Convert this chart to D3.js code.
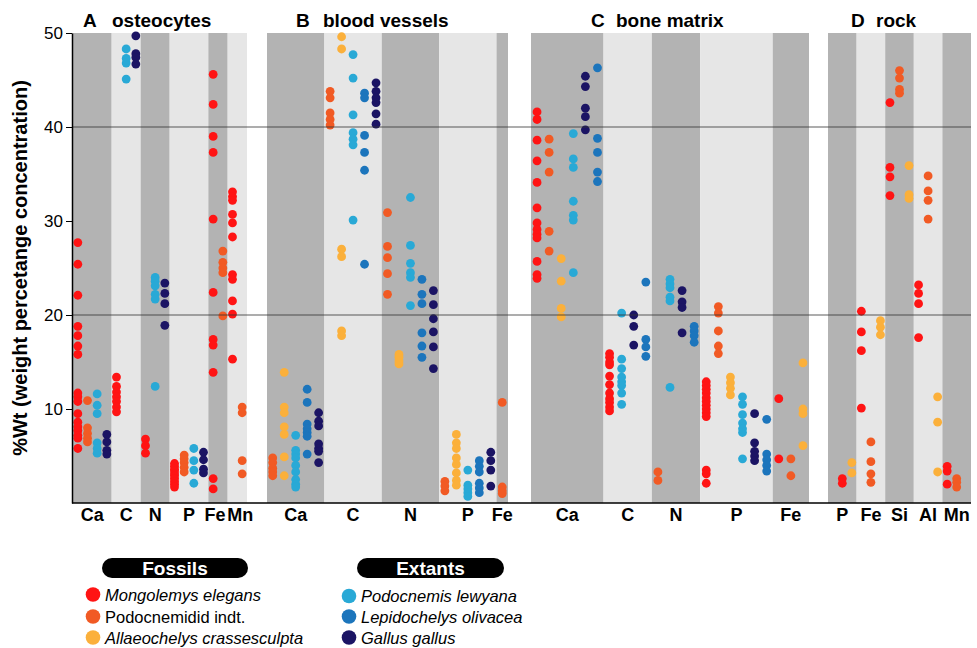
<!DOCTYPE html>
<html>
<head>
<meta charset="utf-8">
<script src="https://cdn.jsdelivr.net/npm/d3@7"></script>
<style>
  body { margin: 0; background: #fff; }
  svg text { font-family: "Liberation Sans", Arial, sans-serif; }
</style>
</head>
<body>
<svg id="chart" width="977" height="648"></svg>
<script>
// species, legend order
const species = ["Mongolemys elegans", "Podocnemidid indt.", "Allaeochelys crassesculpta",
                 "Podocnemis lewyana", "Lepidochelys olivacea", "Gallus gallus"];
const speciesColor = ["#ff1414", "#f15a24", "#fbb03b", "#29a9d6", "#1c75bc", "#1b1464"];
const fossils = [0, 1, 2];
const extants = [3, 4, 5];
const yTicks = [10, 20, 30, 40, 50];
const refLines = [20, 40];

const panelLetters = ["A", "B", "C", "D"];
const panelNames = ["osteocytes", "blood vessels", "bone matrix", "rock"];

// [element, [[species index, %Wt values], ...]]  (null = empty slot)
const osteocytes = [
  ["Ca", [[0, [27.7, 25.4, 22.1, 18.8, 17.8, 16.7, 15.8, 11.7, 11.3, 10.8, 9.5, 8.6, 8.1, 7.7, 7.2, 6.9, 5.8]],
          [1, [10.9, 8.0, 7.4, 6.9, 6.5]],
          [3, [11.6, 10.4, 9.5, 6.4, 5.8, 5.3]],
          [5, [7.3, 6.5, 5.6, 5.2]]]],
  ["C",  [[0, [13.4, 12.4, 11.8, 11.3, 10.8, 10.2, 9.7]],
          [3, [48.3, 47.3, 46.8, 45.1]],
          [5, [49.7, 47.8, 47.4, 46.7]]]],
  ["N",  [[0, [6.8, 6.1, 5.3]],
          [3, [24.0, 23.6, 23.1, 22.2, 21.7, 12.4]],
          [5, [23.4, 22.3, 21.2, 18.9]]]],
  ["P",  [[0, [4.2, 3.9, 3.6, 3.4, 3.1, 2.9, 2.6, 2.3, 2.0, 1.7]],
          [1, [5.1, 4.7, 4.3, 3.8, 3.3]],
          [3, [5.8, 4.5, 3.5, 2.1]],
          [5, [5.4, 4.6, 3.6, 3.2]]]],
  ["Fe", [[0, [45.6, 42.4, 39.0, 37.3, 30.2, 22.4, 17.4, 16.8, 13.9, 2.6, 1.5]],
          [1, [26.8, 25.6, 25.0, 24.5, 19.9]]]],
  ["Mn", [[0, [33.1, 32.6, 32.2, 30.7, 29.8, 28.3, 24.3, 23.8, 21.5, 20.1, 15.3]],
          [1, [10.2, 9.6, 4.5, 3.1]]]]
];

const bloodVessels = [
  ["Ca", [[1, [4.8, 4.3, 3.7, 3.3, 2.9]],
          [2, [13.9, 10.2, 9.6, 8.1, 7.3, 4.9, 2.9]],
          [3, [7.2, 5.6, 5.2, 4.8, 4.0, 3.3, 2.5, 2.0, 1.7]],
          [4, [12.1, 10.7, 8.4, 7.9, 7.5, 7.1, 5.2]],
          [5, [9.6, 8.7, 8.2, 6.3, 5.8, 5.5, 4.3]]]],
  ["C",  [[1, [43.8, 43.1, 41.5, 40.8, 40.2]],
          [2, [49.6, 48.3, 27.0, 26.2, 18.3, 17.8]],
          [3, [47.7, 45.2, 41.3, 39.4, 38.7, 38.1, 30.1]],
          [4, [43.6, 43.1, 39.1, 37.3, 35.4, 25.4]],
          [5, [44.7, 43.8, 43.1, 42.6, 41.4, 40.3]]]],
  ["N",  [[1, [30.9, 27.3, 26.1, 24.4, 22.2]],
          [2, [15.8, 15.5, 15.1, 14.8]],
          [3, [32.5, 27.4, 25.5, 24.5, 24.0, 21.0]],
          [4, [23.8, 22.2, 21.2, 18.1, 16.7, 15.5]],
          [5, [22.6, 21.1, 19.6, 18.2, 16.6, 14.3]]]],
  ["P",  [[1, [2.3, 1.8, 1.3]],
          [2, [7.3, 6.4, 5.8, 4.8, 4.1, 3.2, 2.4, 1.9]],
          [3, [3.5, 1.9, 1.5, 1.1, 0.7]],
          [4, [4.5, 3.9, 3.3, 2.1, 1.6, 1.1]],
          [5, [5.4, 4.5, 3.5, 1.8]]]],
  ["Fe", [[1, [10.7, 1.7, 1.3, 1.0]]]]
];

const boneMatrix = [
  ["Ca", [[0, [41.6, 40.8, 38.6, 36.4, 34.1, 31.4, 29.8, 29.1, 28.6, 28.2, 25.7, 24.3, 23.9]],
          [1, [38.7, 37.3, 35.2, 28.9, 26.8]],
          [2, [26.0, 23.6, 20.7, 19.8]],
          [3, [39.3, 36.6, 35.7, 32.1, 30.6, 30.1, 24.5]],
          [5, [45.4, 44.3, 42.0, 41.1, 39.7]],
          [4, [46.3, 38.8, 37.3, 35.2, 34.2]]]],
  ["C",  [[0, [15.9, 15.5, 15.0, 14.7, 13.5, 12.6, 11.7, 11.1, 10.7, 10.2, 9.8]],
          [3, [20.2, 15.3, 14.3, 13.4, 12.9, 12.5, 11.7, 10.5]],
          [5, [20.0, 18.8, 16.8]],
          [4, [23.5, 17.4, 16.6, 15.6]]]],
  ["N",  [[1, [3.3, 2.4]],
          [3, [23.8, 23.3, 22.9, 21.9, 21.5, 12.3]],
          [5, [22.6, 21.4, 20.8, 18.1]],
          [4, [18.8, 18.3, 17.8, 17.1]]]],
  ["P",  [[0, [12.9, 12.5, 12.1, 11.7, 11.2, 10.8, 10.4, 10.0, 9.6, 9.2, 3.5, 3.1, 2.1]],
          [1, [20.9, 20.2, 18.3, 16.7, 15.9]],
          [2, [13.4, 12.8, 12.2, 11.5]],
          [3, [11.3, 10.5, 9.4, 8.5, 7.9, 7.5, 4.7]],
          [5, [9.5, 6.4, 5.5, 5.0, 4.5]],
          [4, [8.9, 5.2, 4.6, 4.0, 3.4]]]],
  ["Fe", [[0, [11.1, 4.7]],
          [1, [4.7, 2.9]],
          [2, [14.9, 10.0, 9.5, 6.1]]]]
];

const rock = [
  ["P",  [[null, []],
          [0, [2.6, 2.1]],
          [2, [4.3, 3.2]]]],
  ["Fe", [[0, [20.4, 18.2, 16.2, 10.1]],
          [1, [6.5, 4.4, 3.1, 2.2]],
          [2, [19.4, 18.7, 17.9]]]],
  ["Si", [[0, [42.6, 35.7, 34.7, 32.7]],
          [1, [46.0, 45.2, 44.0, 43.6]],
          [2, [35.9, 32.8, 32.4]]]],
  ["Al", [[0, [23.2, 22.3, 21.2, 17.6]],
          [1, [34.8, 33.2, 32.2, 30.2]],
          [2, [11.3, 8.6, 3.3]]]],
  ["Mn", [[0, [3.9, 3.4, 2.0]],
          [1, [2.6, 2.2, 1.7]],
          [null, []]]]
];

const panelData = [osteocytes, bloodVessels, boneMatrix, rock];

// ---- layout ----
const svg = d3.select("#chart");
const axisX = 72, plotRight = 971;
const panelRange = [[73, 247], [267, 508], [531, 809], [828, 971]];
const titlePos = [[83, 112], [296, 323], [591, 616], [851, 876]];
// small nudges so the tight Fe / Mn labels in panel A don't collide
const labelNudge = { "0-4": -3, "0-5": 3 };
const dark = "#b3b3b3", light = "#e6e6e6";
const r = 4.4;

const y = d3.scaleLinear().domain([0, 50]).range([503, 33]);

const bands = svg.append("g");
const dots = svg.append("g");
const labels = svg.append("g");

panelData.forEach((data, pi) => {
  const nSlots = d3.sum(data, d => d[1].length);
  const slot = d3.scaleLinear().domain([0, nSlots]).range(panelRange[pi]);
  let s = 0;
  data.forEach((el, ei) => {
    const s0 = s;
    s += el[1].length;
    let x0 = slot(s0);
    if (pi === 0 && ei === 0) x0 = axisX;
    bands.append("rect")
      .attr("x", x0)
      .attr("y", y(50))
      .attr("width", slot(s) - x0)
      .attr("height", y(0) - y(50))
      .attr("fill", ei % 2 ? light : dark);

    labels.append("text")
      .attr("x", slot((s0 + s) / 2) + (labelNudge[pi + "-" + ei] || 0))
      .attr("y", 521)
      .attr("text-anchor", "middle")
      .attr("font-size", 18)
      .attr("font-weight", "bold")
      .text(el[0]);

    el[1].forEach((ser, k) => {
      if (ser[0] === null) return;
      const cx = slot(s0 + k + 0.5);
      dots.selectAll(null)
        .data(ser[1])
        .enter()
        .append("circle")
        .attr("cx", cx)
        .attr("cy", d => y(d))
        .attr("r", r)
        .attr("fill", speciesColor[ser[0]]);
    });
  });

  // panel title
  labels.append("text")
    .attr("x", titlePos[pi][0]).attr("y", 27)
    .attr("font-size", 19).attr("font-weight", "bold")
    .text(panelLetters[pi]);
  labels.append("text")
    .attr("x", titlePos[pi][1]).attr("y", 27)
    .attr("font-size", 19).attr("font-weight", "bold")
    .text(panelNames[pi]);
});

// reference lines at 20 and 40
svg.selectAll(".ref")
  .data(refLines)
  .enter()
  .append("line")
  .attr("x1", axisX).attr("x2", plotRight)
  .attr("y1", d => y(d)).attr("y2", d => y(d))
  .attr("stroke", "#333")
  .attr("stroke-opacity", 0.8)
  .attr("stroke-width", 1.2);

// x baseline
svg.append("line")
  .attr("x1", axisX).attr("x2", plotRight)
  .attr("y1", y(0)).attr("y2", y(0))
  .attr("stroke", "#000").attr("stroke-width", 1.5);

// y axis
const yAxis = svg.append("g")
  .attr("transform", `translate(${axisX},0)`)
  .call(d3.axisLeft(y).tickValues(yTicks).tickSize(6).tickSizeOuter(0).tickPadding(3));
yAxis.select(".domain").attr("stroke", "#000").attr("stroke-width", 1.5);
yAxis.selectAll("text")
  .attr("font-size", 17)
  .attr("fill", "#000")
  .style("font-family", "'Liberation Sans', Arial, sans-serif");

svg.append("text")
  .attr("transform", "translate(27,268) rotate(-90)")
  .attr("text-anchor", "middle")
  .attr("font-size", 20)
  .attr("font-weight", "bold")
  .text("%Wt (weight percetange concentration)");

// ---- legend ----
const legendGroups = [
  { title: "Fossils", items: fossils, pill: [102, 248], dotX: 93, textX: 105, dy: 0 },
  { title: "Extants", items: extants, pill: [357, 504], dotX: 349, textX: 361, dy: 1.5 }
];
const rowY = [594.5, 616.5, 637.5];

legendGroups.forEach(gr => {
  svg.append("rect")
    .attr("x", gr.pill[0]).attr("y", 558)
    .attr("width", gr.pill[1] - gr.pill[0]).attr("height", 20)
    .attr("rx", 10)
    .attr("fill", "#000");
  svg.append("text")
    .attr("x", (gr.pill[0] + gr.pill[1]) / 2).attr("y", 575)
    .attr("text-anchor", "middle")
    .attr("font-size", 19).attr("font-weight", "bold")
    .attr("fill", "#fff")
    .text(gr.title);
  gr.items.forEach((si, i) => {
    const cy = rowY[i] + (i === 0 ? gr.dy : 0);
    svg.append("circle")
      .attr("cx", gr.dotX).attr("cy", cy)
      .attr("r", 7.3)
      .attr("fill", speciesColor[si]);
    svg.append("text")
      .attr("x", gr.textX).attr("y", cy + 6)
      .attr("font-size", 16.5)
      .attr("font-style", species[si].indexOf("indt.") >= 0 ? "normal" : "italic")
      .text(species[si]);
  });
});
</script>
</body>
</html>
